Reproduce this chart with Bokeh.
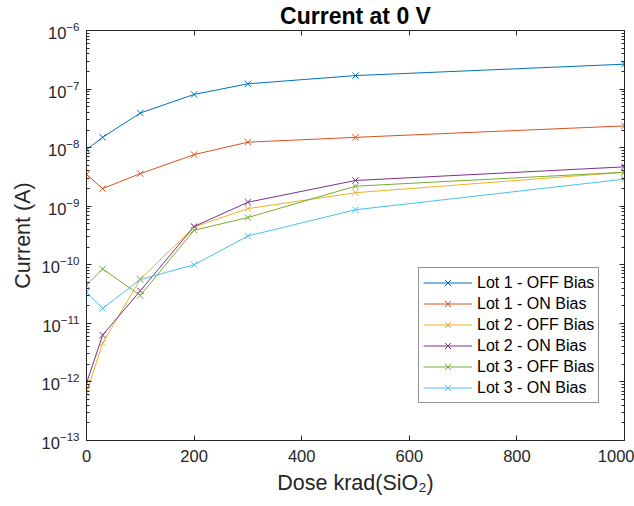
import numpy as np
from bokeh.plotting import figure
from bokeh.models import (LogAxis, LinearAxis, Legend, LegendItem, FixedTicker,
                          Range1d, CustomJSTickFormatter)
from bokeh.embed import file_html
from bokeh.resources import INLINE

dose = [0, 30, 100, 200, 300, 500, 1000]
lot1_off = [9.2e-9, 1.5e-8, 3.9e-8, 8.1e-8, 1.23e-7, 1.7e-7, 2.66e-7]
lot1_on = [3.5e-9, 2.0e-9, 3.6e-9, 7.6e-9, 1.24e-8, 1.5e-8, 2.35e-8]
lot2_off = [6.5e-13, 4.6e-12, 5.7e-11, 4.4e-10, 9.1e-10, 1.7e-9, 3.8e-9]
lot2_on = [9.5e-13, 6.3e-12, 3.6e-11, 4.5e-10, 1.17e-9, 2.75e-9, 4.7e-9]
lot3_off = [4.5e-11, 8.5e-11, 3.0e-11, 3.9e-10, 6.4e-10, 2.2e-9, 3.8e-9]
lot3_on = [3.4e-11, 1.8e-11, 5.6e-11, 1.0e-10, 3.1e-10, 8.7e-10, 2.9e-9]

names = ["Lot 1 - OFF Bias", "Lot 1 - ON Bias", "Lot 2 - OFF Bias",
         "Lot 2 - ON Bias", "Lot 3 - OFF Bias", "Lot 3 - ON Bias"]
series = [lot1_off, lot1_on, lot2_off, lot2_on, lot3_off, lot3_on]
colors = ["#0072BD", "#D95319", "#EDB120", "#7E2F8E", "#77AC30", "#4DBEEE"]

x_ticks = [0, 200, 400, 600, 800, 1000]
y_major = [10.0 ** e for e in range(-13, -5)]
y_minor = [m * 10.0 ** e for e in range(-13, -6) for m in range(2, 10)]

FONT = "Liberation Sans"
AX = "#262626"

p = figure(width=634, height=506, y_axis_type="log",
           x_range=Range1d(0, 1000), y_range=Range1d(1e-13, 1e-6),
           output_backend="svg", toolbar_location=None,
           min_border_left=86, min_border_right=10, min_border_top=30, min_border_bottom=66)
p.background_fill_color = "white"
p.border_fill_color = "white"
p.outline_line_color = AX
p.outline_line_width = 1
p.grid.visible = False

p.title.text = "Current at 0 V"
p.title.align = "center"
p.title.vertical_align = "top"
p.title.text_font = FONT
p.title.text_font_size = "23px"
p.title.text_font_style = "bold"
p.title.text_color = "black"
p.title.standoff = 0
p.title.offset = 0

def style(ax, labels=True):
    ax.axis_line_color = AX
    ax.major_tick_line_color = AX
    ax.minor_tick_line_color = AX
    ax.major_tick_in = 5
    ax.major_tick_out = 0
    ax.minor_tick_in = 3
    ax.minor_tick_out = 0
    ax.major_label_text_font = FONT
    ax.major_label_text_font_size = "16.5px"
    ax.major_label_text_color = AX
    ax.axis_label_text_font = FONT
    ax.axis_label_text_font_size = "21.5px"
    ax.axis_label_text_font_style = "normal"
    ax.axis_label_text_color = AX
    if not labels:
        ax.formatter = CustomJSTickFormatter(code="return ''")
        ax.major_label_text_font_size = "0px"
        ax.major_label_standoff = 0

xa = p.xaxis[0]
xa.ticker = FixedTicker(ticks=x_ticks)
xa.axis_label = "Dose krad(SiO₂)"
style(xa)
xa.minor_tick_line_color = None
xa.major_label_standoff = 9
xa.axis_label_standoff = 6

ya = p.yaxis[0]
ya.ticker = FixedTicker(ticks=y_major, minor_ticks=y_minor)
ya.axis_label = "Current (A)"
style(ya)
ya.major_label_standoff = 7
ya.axis_label_standoff = 4

top = LinearAxis(ticker=FixedTicker(ticks=x_ticks))
style(top, labels=False)
top.minor_tick_line_color = None
p.add_layout(top, "above")

right = LogAxis(ticker=FixedTicker(ticks=y_major, minor_ticks=y_minor))
style(right, labels=False)
p.add_layout(right, "right")

items = []
for name, ys, c in zip(names, series, colors):
    r1 = p.line(dose, ys, line_color=c, line_width=1)
    r2 = p.scatter(dose, ys, marker="x", size=9, line_color=c, fill_color=c, line_width=1)
    items.append(LegendItem(label=name, renderers=[r1, r2]))

legend = Legend(items=items, location=(332, 37))
legend.label_text_font = FONT
legend.label_text_font_size = "16px"
legend.label_text_color = "black"
legend.label_standoff = 5
legend.glyph_width = 49
legend.glyph_height = 21
legend.label_height = 21
legend.spacing = 0
legend.padding = 4
legend.margin = 0
legend.border_line_color = AX
legend.border_line_width = 1
legend.background_fill_color = "white"
legend.background_fill_alpha = 1
legend.item_background_policy = "none"
p.add_layout(legend, "center")

open("out.html", "w").write(file_html(p, INLINE))
